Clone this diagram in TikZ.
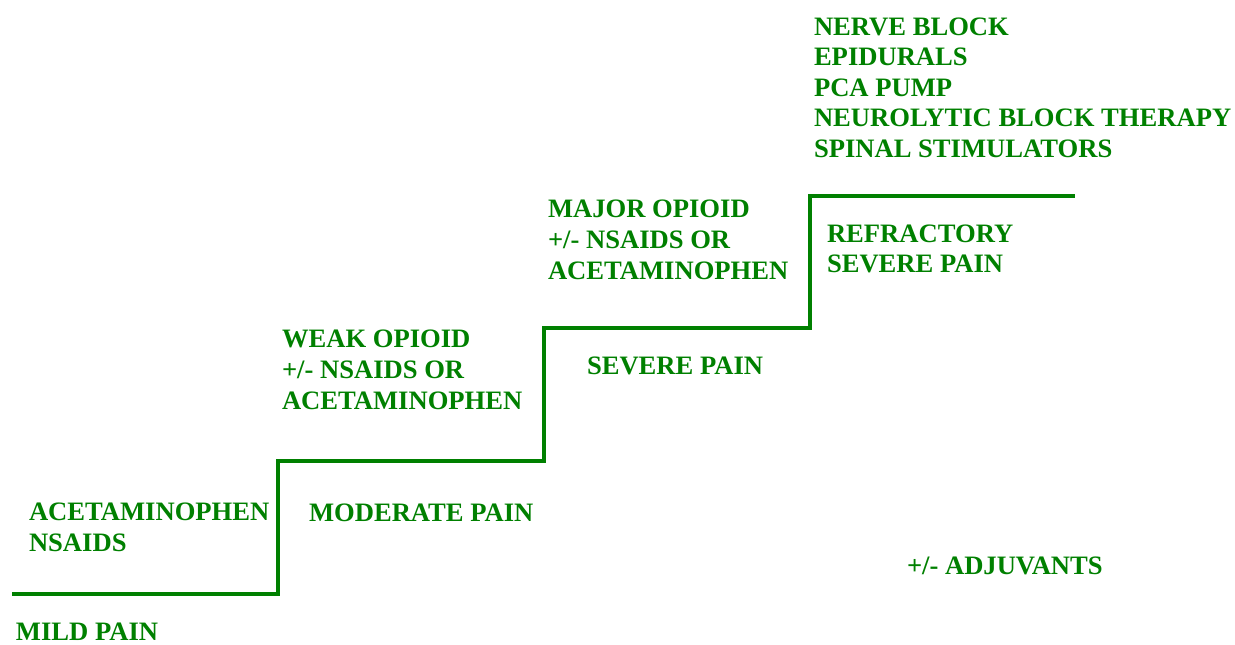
\documentclass[tikz,border=0pt]{standalone}
\usepackage{fontspec}
\setmainfont{Liberation Serif}
\definecolor{stepgreen}{RGB}{0,128,0}
\tikzset{
  lbl/.style={anchor=north west, inner sep=0pt, outer sep=0pt, align=left,
    text=stepgreen, font=\fontsize{26.6}{31}\selectfont\bfseries},
  stair/.style={draw=stepgreen, line width=4pt, line join=miter, line cap=butt}
}
\begin{document}
\begin{tikzpicture}[x=1pt,y=-1pt]
\useasboundingbox (0,0) rectangle (1235,645);
% staircase
\draw[stair] (12,594) -- (278,594) -- (278,461) -- (544,461) -- (544,328)
  -- (810,328) -- (810,196) -- (1075,196);
% labels (top = first baseline - 21.7)
\node[lbl] (s1a) at (29,499) {\strut ACETAMINOPHEN\\NSAIDS};
\node[lbl] (s1b) at (16,619) {\strut MILD PAIN};
\node[lbl] (s2a) at (282,326) {\strut WEAK OPIOID\\+/- NSAIDS OR\\ACETAMINOPHEN};
\node[lbl] (s2b) at (309,500) {\strut MODERATE PAIN};
\node[lbl] (s3a) at (548,196) {\strut MAJOR OPIOID\\+/- NSAIDS OR\\ACETAMINOPHEN};
\node[lbl] (s3b) at (587,353) {\strut SEVERE PAIN};
\node[lbl, font=\fontsize{26.6}{30.5}\selectfont\bfseries] (s4a) at (814,14) {\strut NERVE BLOCK\\EPIDURALS\\PCA PUMP\\NEUROLYTIC BLOCK THERAPY\\SPINAL STIMULATORS};
\node[lbl, font=\fontsize{26.6}{30.5}\selectfont\bfseries] (s4b) at (827,221) {\strut REFRACTORY\\SEVERE PAIN};
\node[lbl] (adj) at (907,553) {\strut +/- ADJUVANTS};
\end{tikzpicture}
\end{document}
